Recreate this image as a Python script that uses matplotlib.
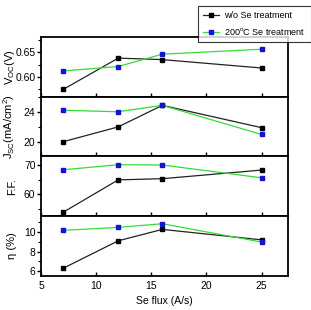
import numpy as np
import matplotlib
matplotlib.use("Agg")
import matplotlib.pyplot as plt
from matplotlib.ticker import MultipleLocator

plt.rcParams["font.family"] = ["Liberation Sans Narrow", "Liberation Sans", "DejaVu Sans"]
plt.rcParams["mathtext.fontset"] = "custom"
plt.rcParams["mathtext.rm"] = "Liberation Sans"
plt.rcParams["mathtext.it"] = "Liberation Sans"

# Se flux (A/s)
se_flux = [7, 12, 16, 25]

# w/o Se treatment
voc_ref = [0.5745, 0.638, 0.635, 0.618]
jsc_ref = [20.04, 22.0, 24.85, 21.9]
ff_ref = [54.0, 64.9, 65.3, 68.2]
eta_ref = [6.28, 9.1, 10.27, 9.2]

# 200C Se treatment
voc_se = [0.612, 0.621, 0.646, 0.656]
jsc_se = [24.2, 24.0, 24.85, 21.0]
ff_se = [68.3, 70.0, 69.9, 65.6]
eta_se = [10.17, 10.48, 10.85, 8.97]

labels = ["w/o Se treatment", "200$^{\\rm o}$C Se treatment"]
ylabels = ["V$_{\\rm OC}$(V)", "J$_{\\rm SC}$(mA/cm$^{\\rm 2}$)", "F.F.", "\u03b7 (%)"]
ylims = [(0.56, 0.681), (18.1, 26.0), (52.7, 72.8), (5.5, 11.63)]
majors = [0.05, 4, 10, 2]
minors = [0.025, 2, 5, 1]


def main():
    fig, axes = plt.subplots(4, 1, sharex=True, figsize=(3.11, 3.10), dpi=100)
    fig.subplots_adjust(left=0.132, right=0.926, top=0.881, bottom=0.110, hspace=0)

    ref_all = [voc_ref, jsc_ref, ff_ref, eta_ref]
    se_all = [voc_se, jsc_se, ff_se, eta_se]

    handles = []
    for i, ax in enumerate(axes):
        h1, = ax.plot(se_flux, ref_all[i], color="#222222", lw=0.9, marker="s",
                      ms=3.5, mfc="black", mec="black")
        h2, = ax.plot(se_flux, se_all[i], color="#33dd33", lw=0.9, marker="s",
                      ms=3.5, mfc="#1010ee", mec="#1010ee")
        if i == 0:
            handles = [h1, h2]
        ax.set_ylim(*ylims[i])
        ax.yaxis.set_major_locator(MultipleLocator(majors[i]))
        ax.yaxis.set_minor_locator(MultipleLocator(minors[i]))
        ax.set_ylabel(ylabels[i], fontsize=8)
        ax.yaxis.set_label_coords(-0.097, 0.5)
        ax.tick_params(axis="y", which="major", direction="out", length=3, width=1,
                       labelsize=7.5, pad=1)
        ax.tick_params(axis="y", which="minor", direction="out", length=2, width=0.8)
        ax.tick_params(axis="x", which="major", direction="in", length=3, width=1,
                       labelsize=7.5)
        ax.tick_params(axis="x", which="minor", length=0)
        for s in ax.spines.values():
            s.set_linewidth(1.3)

    axes[0].yaxis.set_major_formatter(plt.FormatStrFormatter("%.2f"))
    axes[-1].set_xlim(5, 27.4)
    axes[-1].xaxis.set_major_locator(MultipleLocator(5))
    axes[-1].set_xlabel("Se flux (A/s)", fontsize=7.5, labelpad=4)

    leg = fig.legend(handles, labels, loc="upper right", bbox_to_anchor=(0.999, 0.981),
                     borderaxespad=0, fontsize=6.5, frameon=True, fancybox=False,
                     edgecolor="black", handlelength=1.8, handletextpad=0.5,
                     borderpad=0.6, labelspacing=0.6, markerscale=0.8)
    leg.get_frame().set_linewidth(0.8)
    leg.set_zorder(10)

    fig.savefig("out.png", dpi=100)
    plt.close(fig)


if __name__ == "__main__":
    main()
